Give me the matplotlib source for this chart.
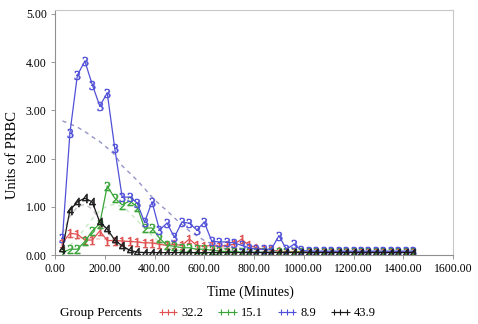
import matplotlib
matplotlib.use('Agg')
import matplotlib.pyplot as plt
from matplotlib.lines import Line2D

plt.rcParams['font.family'] = ['Liberation Serif', 'DejaVu Serif']

# Observed time points (minutes)
times = [30, 60, 90, 120, 150, 180, 210, 240, 270, 300,
         330, 360, 390, 420, 450, 480, 510, 540, 570, 600,
         630, 660, 690, 720, 750, 780, 810, 840, 870, 900,
         930, 960, 990, 1020, 1050, 1080, 1110, 1140, 1170, 1200,
         1230, 1260, 1290, 1320, 1350, 1380, 1410, 1440]

# Mean units of PRBC per trajectory group
grp1 = [0.25, 0.45, 0.43, 0.31, 0.31, 0.50, 0.30, 0.30, 0.29, 0.28,
        0.27, 0.25, 0.25, 0.22, 0.20, 0.22, 0.20, 0.33, 0.20, 0.18,
        0.20, 0.18, 0.20, 0.22, 0.33, 0.20, 0.15, 0.12, 0.10, 0.08,
        0.07, 0.07, 0.07, 0.07, 0.07, 0.07, 0.07, 0.07, 0.07, 0.07,
        0.07, 0.07, 0.07, 0.07, 0.07, 0.07, 0.07, 0.07]
grp2 = [0.05, 0.12, 0.12, 0.28, 0.50, 0.65, 1.43, 1.18, 1.04, 1.12,
        1.00, 0.56, 0.56, 0.35, 0.20, 0.18, 0.15, 0.15, 0.12, 0.12,
        0.10, 0.08, 0.07, 0.07, 0.06, 0.06, 0.06, 0.06, 0.06, 0.06,
        0.06, 0.06, 0.06, 0.06, 0.06, 0.06, 0.06, 0.06, 0.06, 0.06,
        0.06, 0.06, 0.06, 0.06, 0.06, 0.06, 0.06, 0.06]
grp3 = [0.35, 2.53, 3.73, 4.02, 3.53, 3.09, 3.36, 2.22, 1.20, 1.20,
        1.08, 0.68, 1.10, 0.52, 0.66, 0.37, 0.68, 0.66, 0.52, 0.68,
        0.29, 0.27, 0.27, 0.25, 0.20, 0.15, 0.12, 0.12, 0.12, 0.40,
        0.12, 0.22, 0.10, 0.08, 0.08, 0.08, 0.08, 0.08, 0.08, 0.08,
        0.08, 0.08, 0.08, 0.08, 0.08, 0.08, 0.08, 0.08]
grp4 = [0.12, 0.93, 1.10, 1.18, 1.10, 0.68, 0.54, 0.31, 0.19, 0.10,
        0.06, 0.05, 0.05, 0.05, 0.05, 0.05, 0.05, 0.05, 0.05, 0.05,
        0.05, 0.05, 0.05, 0.05, 0.05, 0.05, 0.05, 0.05, 0.05, 0.05,
        0.05, 0.05, 0.05, 0.05, 0.05, 0.05, 0.05, 0.05, 0.05, 0.05,
        0.05, 0.05, 0.05, 0.05, 0.05, 0.05, 0.05, 0.05]

# Model-predicted trajectories (first 24 time points)
pred_times = times[:24]
pred1 = [0.38, 0.37, 0.36, 0.35, 0.34, 0.33, 0.32, 0.31, 0.30, 0.29,
         0.28, 0.27, 0.26, 0.25, 0.24, 0.23, 0.22, 0.21, 0.20, 0.19,
         0.18, 0.17, 0.16, 0.15]
pred2 = [0.10, 0.20, 0.35, 0.55, 0.75, 0.92, 1.02, 1.05, 1.00, 0.88,
         0.72, 0.55, 0.40, 0.27, 0.18, 0.12, 0.08, 0.06, 0.05, 0.05,
         0.05, 0.05, 0.05, 0.05]
pred3 = [2.78, 2.72, 2.65, 2.56, 2.45, 2.35, 2.22, 2.08, 1.85, 1.70,
         1.55, 1.38, 1.20, 1.05, 0.92, 0.77, 0.63, 0.50, 0.40, 0.30,
         0.23, 0.17, 0.12, 0.09]
pred4 = [0.45, 0.80, 1.00, 1.05, 0.95, 0.72, 0.48, 0.28, 0.15, 0.08,
         0.05, 0.05, 0.05, 0.05, 0.05, 0.05, 0.05, 0.05, 0.05, 0.05,
         0.05, 0.05, 0.05, 0.05]

group_pct = ['32.2', '15.1', '8.9', '43.9']
colors = ['#e05252', '#3aa63a', '#5050d8', '#1a1a1a']
pred_colors = ['#f6c8c8', '#c8e8c8', '#9494c8', '#c4c4c4']
digits = ['1', '2', '3', '4']

x_ticks = [0, 200, 400, 600, 800, 1000, 1200, 1400, 1600]
y_ticks = [0, 1, 2, 3, 4, 5]

fig = plt.figure(figsize=(4.78, 3.24), dpi=100)
ax = fig.add_axes([55 / 478, 69 / 324, 398 / 478, 245 / 324])

series = [grp1, grp2, grp3, grp4]
preds = [pred1, pred2, pred3, pred4]

for pred, pc in zip(preds, pred_colors):
    ax.plot(pred_times, pred, color=pc, lw=1.0, ls=(0, (3, 3)), zorder=1)

for vals, c, d in zip(series, colors, digits):
    ax.plot(times, vals, color=c, lw=0.9, marker=r'$\mathregular{%s}$' % d,
            markersize=6.5, markeredgewidth=0.4, zorder=2)

ax.set_xlim(0, 1600)
ax.set_ylim(0, 5.08)
ax.set_xticks(x_ticks)
ax.set_xticklabels(['%.2f' % v for v in x_ticks])
ax.set_yticks(y_ticks)
ax.set_yticklabels(['%.2f' % v for v in y_ticks])
ax.tick_params(labelsize=8.5, length=3, width=0.6, color='#888888', pad=3)

for side in ['top', 'right']:
    ax.spines[side].set_color('#c8c8c8')
for side in ['left', 'bottom']:
    ax.spines[side].set_color('#909090')
for s in ax.spines.values():
    s.set_linewidth(0.8)

ax.set_xlabel('Time (Minutes)', fontsize=10)
ax.set_ylabel('Units of PRBC', fontsize=10.5)
ax.xaxis.set_label_coords(0.49, -0.125)
ax.yaxis.set_label_coords(-0.09, 0.41)

# Legend row along the bottom
fig.text(60 / 478, 1 - 313 / 324, 'Group Percents', fontsize=9.5, va='center')
handles = [Line2D([], [], color=c, lw=0.8, marker='+', markersize=4, markeredgewidth=0.8)
           for c in colors]
fig.legend(handles, group_pct, loc='center left', bbox_to_anchor=(158 / 478, 1 - 313 / 324),
           ncol=4, frameon=False, numpoints=3, handlelength=1.6, handletextpad=0.25,
           columnspacing=1.15, fontsize=9, borderpad=0, borderaxespad=0)

fig.savefig('out.png', dpi=100)
